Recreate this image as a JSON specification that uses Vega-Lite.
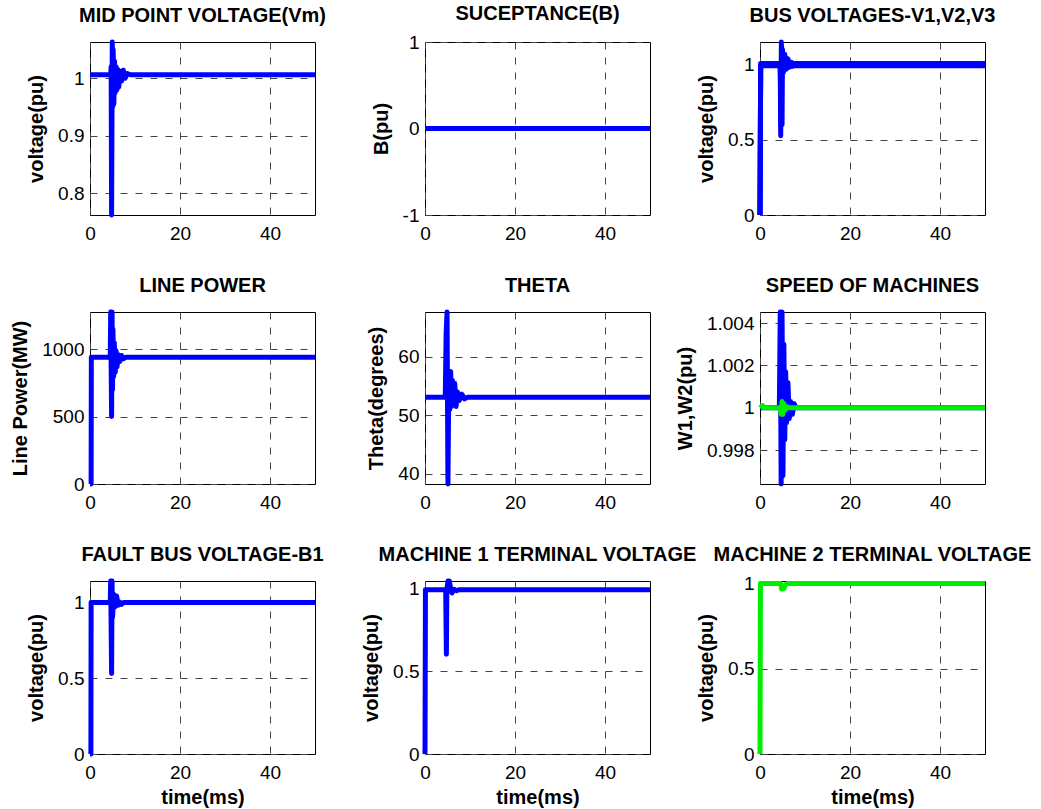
{
  "$schema": "https://vega.github.io/schema/vega-lite/v6.json",
  "padding": {"left": 10, "top": 3, "right": 10, "bottom": 0},
  "background": "white",
  "bounds": "flush",
  "columns": 3,
  "spacing": {"row": 97, "column": 110},
  "resolve": {"scale": {"x": "independent", "y": "independent", "color": "independent"}},
  "config": {
    "font": "Liberation Sans",
    "view": {"stroke": "black", "strokeWidth": 1},
    "title": {"fontSize": 20, "fontWeight": "bold", "color": "black", "anchor": "middle", "baseline": "alphabetic", "offset": 14, "frame": "group"},
    "axis": {
      "labelFont": "Liberation Sans", "labelFontSize": 19, "labelColor": "black",
      "titleFont": "Liberation Sans", "titleFontSize": 20, "titleFontWeight": "bold", "titleColor": "black",
      "ticks": false, "tickSize": 0, "domain": false, "labelPadding": 6,
      "grid": true, "gridColor": "#444444", "gridDash": [7, 8], "gridWidth": 1, "gridOpacity": 1,
      "labelOverlap": false, "labelFlush": false, "titlePadding": 11,
      "labelExpr": "'' + datum.value"
    },
    "axisX": {"labelPadding": 9, "titlePadding": 5},
    "line": {"strokeWidth": 5, "strokeJoin": "round", "clip": true}
  },
  "datasets": {
    "vm": [
      {"t": 0, "v": 1.006}, {"t": 4.6, "v": 1.006}, {"t": 4.7, "v": 1.02}, {"t": 4.8, "v": 0.762},
      {"t": 4.95, "v": 1.063}, {"t": 5.05, "v": 0.95}, {"t": 5.15, "v": 1.05}, {"t": 5.3, "v": 0.955},
      {"t": 5.45, "v": 1.03}, {"t": 5.6, "v": 0.975}, {"t": 5.8, "v": 1.02}, {"t": 6.0, "v": 0.98},
      {"t": 6.2, "v": 1.015}, {"t": 6.4, "v": 0.985}, {"t": 6.7, "v": 1.012}, {"t": 7.0, "v": 0.995},
      {"t": 7.4, "v": 1.014}, {"t": 7.8, "v": 1.0}, {"t": 8.3, "v": 1.008}, {"t": 9, "v": 1.006}, {"t": 50, "v": 1.006}
    ],
    "b": [{"t": 0, "v": 0}, {"t": 50, "v": 0}],
    "bus": [
      {"s": "V1", "t": 0, "v": 0}, {"s": "V1", "t": 0.15, "v": 1.008}, {"s": "V1", "t": 4.5, "v": 1.008},
      {"s": "V1", "t": 4.6, "v": 0.527}, {"s": "V1", "t": 4.75, "v": 1.151}, {"s": "V1", "t": 4.9, "v": 0.6},
      {"s": "V1", "t": 5.0, "v": 1.1}, {"s": "V1", "t": 5.2, "v": 0.95}, {"s": "V1", "t": 5.5, "v": 1.07},
      {"s": "V1", "t": 5.8, "v": 0.97}, {"s": "V1", "t": 6.2, "v": 1.04}, {"s": "V1", "t": 6.6, "v": 0.985},
      {"s": "V1", "t": 7.0, "v": 1.015}, {"s": "V1", "t": 7.5, "v": 1.008}, {"s": "V1", "t": 50, "v": 1.008},
      {"s": "V2", "t": 0, "v": 0}, {"s": "V2", "t": 0.15, "v": 1.0}, {"s": "V2", "t": 4.5, "v": 1.0},
      {"s": "V2", "t": 4.65, "v": 0.6}, {"s": "V2", "t": 4.8, "v": 1.12}, {"s": "V2", "t": 5.0, "v": 0.95},
      {"s": "V2", "t": 5.4, "v": 1.05}, {"s": "V2", "t": 5.9, "v": 0.975}, {"s": "V2", "t": 6.4, "v": 1.02},
      {"s": "V2", "t": 7.0, "v": 0.99}, {"s": "V2", "t": 7.5, "v": 1.0}, {"s": "V2", "t": 50, "v": 1.0},
      {"s": "V3", "t": 0, "v": 0}, {"s": "V3", "t": 0.15, "v": 0.993}, {"s": "V3", "t": 4.5, "v": 0.993},
      {"s": "V3", "t": 4.7, "v": 0.7}, {"s": "V3", "t": 4.9, "v": 1.09}, {"s": "V3", "t": 5.2, "v": 0.96},
      {"s": "V3", "t": 5.6, "v": 1.04}, {"s": "V3", "t": 6.1, "v": 0.98}, {"s": "V3", "t": 6.6, "v": 1.005},
      {"s": "V3", "t": 7.2, "v": 0.99}, {"s": "V3", "t": 7.7, "v": 0.993}, {"s": "V3", "t": 50, "v": 0.993}
    ],
    "power": [
      {"t": 0, "v": 0}, {"t": 0.25, "v": 0}, {"t": 0.3, "v": 942}, {"t": 4.5, "v": 942},
      {"t": 4.6, "v": 1278}, {"t": 4.8, "v": 502}, {"t": 4.9, "v": 1278}, {"t": 5.0, "v": 700},
      {"t": 5.1, "v": 1150}, {"t": 5.25, "v": 800}, {"t": 5.4, "v": 1050}, {"t": 5.6, "v": 830},
      {"t": 5.8, "v": 990}, {"t": 6.0, "v": 870}, {"t": 6.3, "v": 960}, {"t": 6.6, "v": 910},
      {"t": 7.0, "v": 955}, {"t": 7.4, "v": 930}, {"t": 8, "v": 942}, {"t": 50, "v": 942}
    ],
    "theta": [
      {"t": 0, "v": 53.1}, {"t": 4.5, "v": 53.1}, {"t": 4.7, "v": 64}, {"t": 4.9, "v": 67.7},
      {"t": 5.1, "v": 38.2}, {"t": 5.3, "v": 57}, {"t": 5.5, "v": 51}, {"t": 5.7, "v": 57.5},
      {"t": 5.9, "v": 51.5}, {"t": 6.1, "v": 56}, {"t": 6.3, "v": 52}, {"t": 6.6, "v": 55.5},
      {"t": 6.9, "v": 51.5}, {"t": 7.2, "v": 54}, {"t": 7.6, "v": 52.5}, {"t": 8.2, "v": 53.6},
      {"t": 8.8, "v": 52.8}, {"t": 9.5, "v": 53.1}, {"t": 50, "v": 53.1}
    ],
    "w1": [
      {"t": 0, "v": 1.0}, {"t": 4.3, "v": 1.0}, {"t": 4.5, "v": 1.00452}, {"t": 4.7, "v": 0.99641},
      {"t": 4.9, "v": 1.00452}, {"t": 5.1, "v": 0.9968}, {"t": 5.3, "v": 1.003}, {"t": 5.5, "v": 0.9985},
      {"t": 5.7, "v": 1.0017}, {"t": 5.9, "v": 0.9993}, {"t": 6.2, "v": 1.0012}, {"t": 6.5, "v": 0.9995},
      {"t": 6.8, "v": 1.0003}, {"t": 7.2, "v": 0.9997}, {"t": 7.6, "v": 1.0002}, {"t": 8, "v": 1.0}, {"t": 50, "v": 1.0}
    ],
    "w2": [
      {"t": 0, "v": 1.0}, {"t": 0.3, "v": 1.00005}, {"t": 0.6, "v": 1.0001}, {"t": 1.0, "v": 1.0},
      {"t": 4.5, "v": 1.0}, {"t": 4.7, "v": 0.9997}, {"t": 4.9, "v": 1.0003}, {"t": 5.1, "v": 0.9997},
      {"t": 5.3, "v": 1.0002}, {"t": 5.6, "v": 0.9999}, {"t": 6.0, "v": 1.00005}, {"t": 6.5, "v": 1.0}, {"t": 50, "v": 1.0}
    ],
    "fault": [
      {"t": 0, "v": 0}, {"t": 0.2, "v": 0}, {"t": 0.25, "v": 0.998}, {"t": 4.5, "v": 0.998},
      {"t": 4.6, "v": 1.139}, {"t": 4.8, "v": 0.53}, {"t": 4.9, "v": 1.139}, {"t": 5.0, "v": 0.9},
      {"t": 5.3, "v": 1.05}, {"t": 5.6, "v": 0.97}, {"t": 5.9, "v": 1.04}, {"t": 6.3, "v": 0.98},
      {"t": 6.6, "v": 1.0}, {"t": 7.0, "v": 0.985}, {"t": 7.5, "v": 0.998}, {"t": 50, "v": 0.998}
    ],
    "m1": [
      {"t": 0, "v": 0}, {"t": 0.1, "v": 0.994}, {"t": 4.6, "v": 0.994}, {"t": 4.75, "v": 0.604},
      {"t": 4.85, "v": 0.994}, {"t": 5.1, "v": 1.047}, {"t": 5.4, "v": 1.047}, {"t": 5.7, "v": 1.0},
      {"t": 6.0, "v": 0.975}, {"t": 6.5, "v": 0.997}, {"t": 7.0, "v": 0.988}, {"t": 7.5, "v": 0.994}, {"t": 50, "v": 0.994}
    ],
    "m2": [
      {"t": 0, "v": 0}, {"t": 0.1, "v": 0.997}, {"t": 4.6, "v": 0.997}, {"t": 4.8, "v": 0.965},
      {"t": 5.0, "v": 0.98}, {"t": 5.3, "v": 0.968}, {"t": 5.6, "v": 0.988}, {"t": 6.0, "v": 0.997}, {"t": 50, "v": 0.997}
    ]
  },
  "concat": [
    {
      "title": "MID POINT VOLTAGE(Vm)", "width": 225, "height": 173,
      "data": {"name": "vm"},
      "mark": {"type": "line", "color": "#0000ff"},
      "encoding": {
        "x": {"field": "t", "type": "quantitative", "scale": {"domain": [0, 50], "nice": false}, "axis": {"values": [0, 20, 40], "title": null}},
        "y": {"field": "v", "type": "quantitative", "scale": {"domain": [0.762, 1.063], "nice": false, "zero": false}, "axis": {"values": [0.8, 0.9, 1], "title": "voltage(pu)"}}
      }
    },
    {
      "title": {"text": "SUCEPTANCE(B)", "offset": 9}, "width": 225, "height": 173,
      "data": {"name": "b"},
      "mark": {"type": "line", "color": "#0000ff"},
      "encoding": {
        "x": {"field": "t", "type": "quantitative", "scale": {"domain": [0, 50], "nice": false}, "axis": {"values": [0, 20, 40], "title": null}},
        "y": {"field": "v", "type": "quantitative", "scale": {"domain": [-1, 1], "nice": false}, "axis": {"values": [-1, 0, 1], "title": "B(pu)"}}
      }
    },
    {
      "title": "BUS VOLTAGES-V1,V2,V3", "width": 225, "height": 173,
      "data": {"name": "bus"},
      "mark": {"type": "line", "color": "#0000ff"},
      "encoding": {
        "x": {"field": "t", "type": "quantitative", "scale": {"domain": [0, 50], "nice": false}, "axis": {"values": [0, 20, 40], "title": null}},
        "y": {"field": "v", "type": "quantitative", "scale": {"domain": [0, 1.151], "nice": false}, "axis": {"values": [0, 0.5, 1], "title": "voltage(pu)"}},
        "detail": {"field": "s", "type": "nominal"}
      }
    },
    {
      "title": "LINE POWER", "width": 225, "height": 172,
      "data": {"name": "power"},
      "mark": {"type": "line", "color": "#0000ff"},
      "encoding": {
        "x": {"field": "t", "type": "quantitative", "scale": {"domain": [0, 50], "nice": false}, "axis": {"values": [0, 20, 40], "title": null}},
        "y": {"field": "v", "type": "quantitative", "scale": {"domain": [0, 1278], "nice": false}, "axis": {"values": [0, 500, 1000], "title": "Line Power(MW)"}}
      }
    },
    {
      "title": "THETA", "width": 225, "height": 172,
      "data": {"name": "theta"},
      "mark": {"type": "line", "color": "#0000ff"},
      "encoding": {
        "x": {"field": "t", "type": "quantitative", "scale": {"domain": [0, 50], "nice": false}, "axis": {"values": [0, 20, 40], "title": null}},
        "y": {"field": "v", "type": "quantitative", "scale": {"domain": [38.2, 67.7], "nice": false, "zero": false}, "axis": {"values": [40, 50, 60], "title": "Theta(degrees)"}}
      }
    },
    {
      "title": "SPEED OF MACHINES", "width": 225, "height": 172,
      "layer": [
        {
          "data": {"name": "w1"},
          "mark": {"type": "line", "color": "#0000ff"},
          "encoding": {
            "x": {"field": "t", "type": "quantitative", "scale": {"domain": [0, 50], "nice": false}, "axis": {"values": [0, 20, 40], "title": null}},
            "y": {"field": "v", "type": "quantitative", "scale": {"domain": [0.99641, 1.00452], "nice": false, "zero": false}, "axis": {"values": [0.998, 1, 1.002, 1.004], "title": "W1,W2(pu)"}}
          }
        },
        {
          "data": {"name": "w2"},
          "mark": {"type": "line", "color": "#00ee00"},
          "encoding": {
            "x": {"field": "t", "type": "quantitative"},
            "y": {"field": "v", "type": "quantitative"}
          }
        }
      ]
    },
    {
      "title": "FAULT BUS VOLTAGE-B1", "width": 225, "height": 173,
      "data": {"name": "fault"},
      "mark": {"type": "line", "color": "#0000ff"},
      "encoding": {
        "x": {"field": "t", "type": "quantitative", "scale": {"domain": [0, 50], "nice": false}, "axis": {"values": [0, 20, 40], "title": "time(ms)"}},
        "y": {"field": "v", "type": "quantitative", "scale": {"domain": [0, 1.139], "nice": false}, "axis": {"values": [0, 0.5, 1], "title": "voltage(pu)"}}
      }
    },
    {
      "title": "MACHINE 1 TERMINAL VOLTAGE", "width": 225, "height": 173,
      "data": {"name": "m1"},
      "mark": {"type": "line", "color": "#0000ff"},
      "encoding": {
        "x": {"field": "t", "type": "quantitative", "scale": {"domain": [0, 50], "nice": false}, "axis": {"values": [0, 20, 40], "title": "time(ms)"}},
        "y": {"field": "v", "type": "quantitative", "scale": {"domain": [0, 1.047], "nice": false}, "axis": {"values": [0, 0.5, 1], "title": "voltage(pu)"}}
      }
    },
    {
      "title": {"text": "MACHINE 2 TERMINAL VOLTAGE", "offset": 9}, "width": 225, "height": 173,
      "data": {"name": "m2"},
      "mark": {"type": "line", "color": "#00ee00"},
      "encoding": {
        "x": {"field": "t", "type": "quantitative", "scale": {"domain": [0, 50], "nice": false}, "axis": {"values": [0, 20, 40], "title": "time(ms)"}},
        "y": {"field": "v", "type": "quantitative", "scale": {"domain": [0, 1.012], "nice": false}, "axis": {"values": [0, 0.5, 1], "title": "voltage(pu)"}}
      }
    }
  ]
}
